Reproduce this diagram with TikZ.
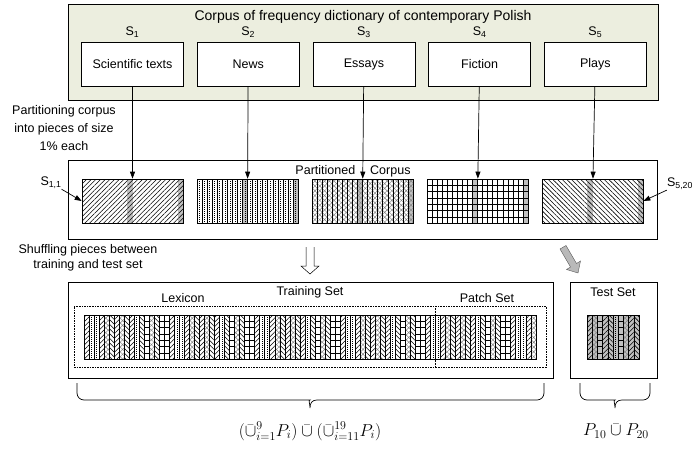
\documentclass[tikz,border=0pt]{standalone}
\usepackage{amsmath}
\usepackage{fontspec}
\setmainfont{Liberation Sans}
\usepackage{tikz}
\usetikzlibrary{arrows.meta,positioning,patterns.meta,calc}
\definecolor{corpusbg}{RGB}{236,238,223}
\definecolor{stripgray}{RGB}{192,192,192}
% one 1% strip: x, top y, width, kind (1..5), vertical border (0/1)
\newcommand{\drawstrip}[5]{%
  \ifcase#4\or
    \path[pattern={Lines[angle=45,distance=3.3pt,line width=.55pt]}] (#1,#2) rectangle ++(#3,44);
  \or
    \draw[line width=.5pt,dash pattern=on .7pt off 1.3pt] (#1+#3/2,#2) -- ++(0,44);
  \or
    \path[pattern={Hatch[angle=45,distance=3.4pt,line width=.45pt]},pattern color=gray] (#1,#2) rectangle ++(#3,44);
  \or
    \foreach \r in {1,...,6} \draw[line width=.5pt] (#1,#2+\r*6.3) -- ++(#3,0);
  \or
    \path[pattern={Lines[angle=-45,distance=3.3pt,line width=.55pt]}] (#1,#2) rectangle ++(#3,44);
  \fi
  \ifnum#5=1 \draw[line width=.5pt] (#1,#2) -- ++(0,44);\fi}
% curly brace under a box: left x, right x, tip x, top y
\newcommand{\curly}[4]{%
  \draw (#1,#4) [rounded corners=7pt] |- (#3-7,#4+17) [sharp corners]
    .. controls (#3-2,#4+17) and (#3,#4+20) .. (#3,#4+25)
    .. controls (#3,#4+20) and (#3+2,#4+17) .. (#3+7,#4+17)
    [rounded corners=7pt] -| (#2,#4);}

\begin{document}
\begin{tikzpicture}[x=1pt, y=-1pt, line width=0.7pt,
  every node/.style={font=\fontsize{12.5}{15}\selectfont, inner sep=0pt},
  srcbox/.style={draw, fill=white, minimum width=102pt, minimum height=44pt},
  piece/.style={draw, minimum width=101pt, minimum height=44pt},
  setbox/.style={draw, minimum height=96pt},
  dashline/.style={dash pattern=on 1.6pt off 1pt, line width=.5pt},
  >={Triangle[length=7pt,width=5pt]}]
\useasboundingbox (0,0) rectangle (694,448);

% corpus and its five sources
\node[draw, fill=corpusbg, minimum width=590pt, minimum height=96pt] (corpus) at (363,52) {};
\node[font=\fontsize{14}{16}\selectfont] (title) at (363,17) {Corpus of frequency dictionary of contemporary Polish};
\node[srcbox] (sci) at (132.5,64) {Scientific texts};
\node[srcbox, right=13pt of sci] (news) {News};
\node[srcbox, right=13pt of news] (ess) {Essays};
\node[srcbox, right=13pt of ess] (fic) {Fiction};
\node[srcbox, right=13pt of fic] (pla) {Plays};
\foreach \b [count=\k] in {sci,news,ess,fic,pla}
  \node[above=4pt of \b] (s\k) {S\textsubscript{\k}};

\node[align=center, font=\fontsize{12.5}{18}\selectfont] (parttxt) at (64,128) {Partitioning corpus\\into pieces of size\\1\% each};

% partitioned corpus
\node[draw, minimum width=589pt, minimum height=79pt] (part) at (362.5,199.5) {};
\node (parttitle) at (353,171) {Partitioned\hspace{15pt}Corpus};
\foreach \k/\brd in {1/0,2/1,3/1,4/1,5/0} {
  \foreach \j in {0,...,19} {
    \pgfmathsetmacro\sx{82+(\k-1)*115+\j*5.05}
    \ifnum\j=9 \fill[stripgray] (\sx,179) rectangle ++(5.05,44);\fi
    \ifnum\j=19 \fill[stripgray] (\sx,179) rectangle ++(5.05,44);\fi
    \drawstrip{\sx}{179}{5.05}{\k}{\brd}
  }
  \node[piece] (p\k) at (132.5+\k*115-115,201) {};
}
\foreach \b [count=\k] in {sci,news,ess,fic,pla}
  \draw[->] (\b) -- (p\k);
\node (s11) at (51,183) {S\textsubscript{1,1}};
\node (s520) at (680,184) {S\textsubscript{5,20}};
\draw[->] (s11) -- (p1.west);
\draw[->] (s520) -- (p5.east);

\node[align=center] (shuftxt) at (88,258) {Shuffling pieces between\\training and test set};
\draw[fill=white, line width=.5pt] (306,247) -- (306,266) -- (301,266) -- (310,274) -- (319,266) -- (314,266) -- (314,247);
\draw[fill=gray!55, draw=gray!70!black, line width=.4pt] (560,249) -- (570.5,267) -- (566.5,269.5) -- (578,273) -- (580.5,261) -- (576.5,263.5) -- (566,245.5) -- cycle;

% training and test set
\node[setbox, minimum width=485pt] (train) at (310.5,330) {};
\node[setbox, minimum width=87pt] (test) at (613.5,330) {};
\node (traintitle) at (310,292) {Training Set};
\node (testtitle) at (613,292) {Test Set};
\node (lexlbl) at (183,298) {Lexicon};
\node (patchlbl) at (487,298) {Patch Set};
\node[draw, dashline, minimum width=472pt, minimum height=61pt] (pooled) at (310,336.5) {};
\draw[dashline] ($(pooled.north west)+(361,0)$) -- ($(pooled.south west)+(361,0)$);
\foreach \j in {0,...,89} {
  \pgfmathtruncatemacro\kk{{1,5,2,4,1,5,3,2,1,5,4,3,1,5,2,3,4}[mod(\j*7,17)]}
  \pgfmathsetmacro\sx{84+\j*5.02}
  \drawstrip{\sx}{315}{5.02}{\kk}{1}
}
\node[draw, minimum width=452pt, minimum height=44pt] (pool) at (310,337) {};
\foreach \j/\kk in {0/1,1/3,2/4,3/1,4/5,5/2,6/4,7/3,8/1,9/5} {
  \pgfmathsetmacro\sx{587+\j*5.2}
  \fill[stripgray] (\sx,315) rectangle ++(5.2,44);
  \drawstrip{\sx}{315}{5.2}{\kk}{1}
}
\node[draw, minimum width=52pt, minimum height=44pt] (testpool) at (613,337) {};

\curly{77}{544}{310}{383}
\curly{580}{650}{615}{383}
\node (trainexpr) at (310,431) {\fontsize{18}{21}\selectfont$(\bar{\cup}^{9}_{i=1}P_i)\mathbin{\bar{\cup}}(\bar{\cup}^{19}_{i=11}P_i)$};
\node (testexpr) at (616,431) {\fontsize{18}{21}\selectfont$P_{10}\mathbin{\bar{\cup}}P_{20}$};
\end{tikzpicture}
\end{document}
